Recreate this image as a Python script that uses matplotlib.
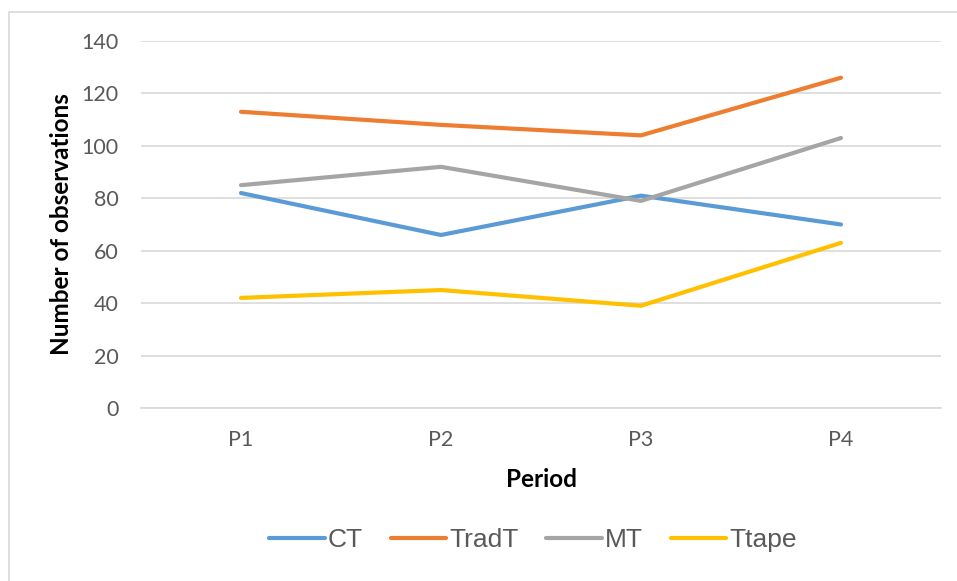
import matplotlib.pyplot as plt
from matplotlib.patches import Rectangle

periods = ["P1", "P2", "P3", "P4"]
ct = [82, 66, 81, 70]
tradt = [113, 108, 104, 126]
mt = [85, 92, 79, 103]
ttape = [42, 45, 39, 63]

series = [("CT", ct, "#5B9BD5"),
          ("TradT", tradt, "#ED7D31"),
          ("MT", mt, "#A5A5A5"),
          ("Ttape", ttape, "#FFC000")]

plt.rcParams["font.family"] = ["Lato", "DejaVu Sans"]

fig = plt.figure(figsize=(9.57, 5.81), dpi=100)
ax = fig.add_axes([141 / 957, 1 - 408 / 581, 800 / 957, 367 / 581])

# chart border (only top/left edges visible in the original)
fig.patches.append(Rectangle((9 / 957, -0.1), 1.2, 1 - 12 / 581 + 0.1,
                             transform=fig.transFigure, fill=False,
                             edgecolor="#D9D9D9", linewidth=1.2))

x = range(len(periods))
for name, vals, color in series:
    ax.plot(x, vals, color=color, linewidth=3, label=name,
            solid_capstyle="round", solid_joinstyle="round", zorder=3)

ax.set_xlim(-0.5, 3.5)
ax.set_ylim(0, 140)
ax.set_yticks(range(0, 141, 20))
ax.set_xticks(list(x))
ax.set_xticklabels(periods)
ax.grid(axis="y", color="#D9D9D9", linewidth=1.2)
ax.set_axisbelow(True)
for s in ["top", "right", "left"]:
    ax.spines[s].set_visible(False)
ax.spines["bottom"].set_color("#D9D9D9")
ax.spines["bottom"].set_linewidth(1.2)
ax.tick_params(axis="both", length=0, labelsize=15.5, labelcolor="#595959")
ax.tick_params(axis="y", pad=16)
ax.tick_params(axis="x", pad=16)

ax.set_xlabel("Period", fontsize=17.5, fontweight="bold", labelpad=13)
ax.set_ylabel("Number of observations", fontsize=17.5, fontweight="bold", labelpad=6)

leg = fig.legend(loc="center", bbox_to_anchor=(533 / 957, 1 - 540 / 581), ncol=4,
                 frameon=False, handlelength=2.1, handletextpad=0.12,
                 columnspacing=1.05, prop={"family": "Liberation Sans", "size": 19})
for t in leg.get_texts():
    t.set_color("#595959")

fig.savefig("out.png", dpi=100)
